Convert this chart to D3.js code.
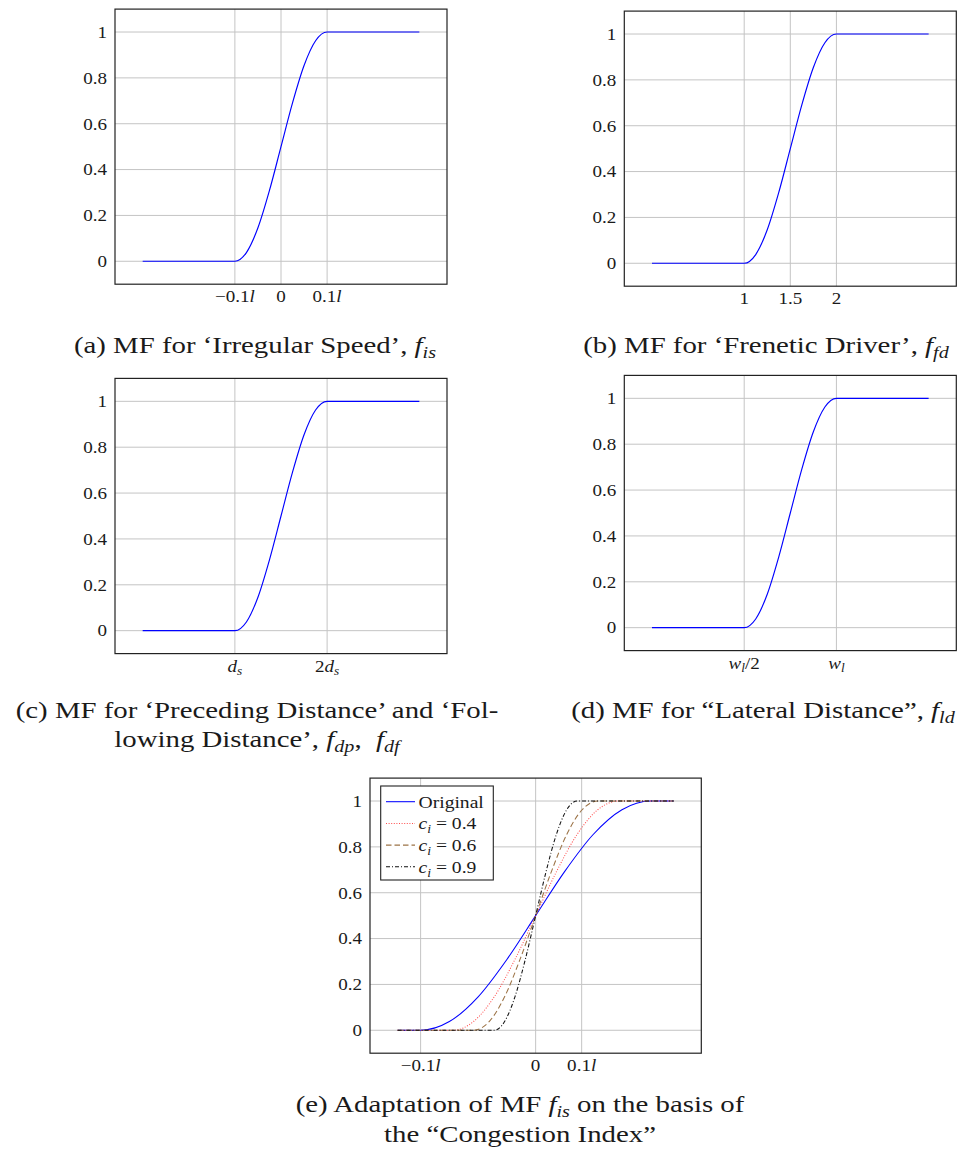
<!DOCTYPE html>
<html>
<head>
<meta charset="utf-8">
<script src="https://cdn.jsdelivr.net/npm/d3@7"></script>
<style>
  body { margin: 0; background: #fff; }
  svg { display: block; }
  text { font-family: "Liberation Serif", "DejaVu Serif", "Times New Roman", serif; fill: #1a1a1a; white-space: pre; }
</style>
</head>
<body>
<svg id="fig" width="970" height="1155"></svg>
<script>
// ---------- shared y axis ----------
const yTickValues = [0, 0.2, 0.4, 0.6, 0.8, 1];
const yTickLabels = ["0", "0.2", "0.4", "0.6", "0.8", "1"];

// ---------- (a) Irregular Speed ----------
const isX = [-0.3, -0.1, -0.075, -0.05, -0.025, 0, 0.025, 0.05, 0.075, 0.1, 0.3];
const isY = [0, 0, 0.038, 0.146, 0.309, 0.5, 0.691, 0.854, 0.962, 1, 1];
const isTicks = [-0.1, 0, 0.1];
const isTickLabels = [[["−0.1", ""], ["l", "i"]], [["0", ""]], [["0.1", ""], ["l", "i"]]];

// ---------- (b) Frenetic Driver ----------
const fdX = [0, 1, 1.125, 1.25, 1.375, 1.5, 1.625, 1.75, 1.875, 2, 3];
const fdY = [0, 0, 0.038, 0.146, 0.309, 0.5, 0.691, 0.854, 0.962, 1, 1];
const fdTicks = [1, 1.5, 2];
const fdTickLabels = [[["1", ""]], [["1.5", ""]], [["2", ""]]];

// ---------- (c) Preceding / Following Distance ----------
const dsX = [0, 1, 1.125, 1.25, 1.375, 1.5, 1.625, 1.75, 1.875, 2, 3];
const dsY = [0, 0, 0.038, 0.146, 0.309, 0.5, 0.691, 0.854, 0.962, 1, 1];
const dsTicks = [1, 2];
const dsTickLabels = [[["d", "i"], ["s", "sub"]], [["2", ""], ["d", "i"], ["s", "sub"]]];

// ---------- (d) Lateral Distance ----------
const ldX = [0, 0.5, 0.5625, 0.625, 0.6875, 0.75, 0.8125, 0.875, 0.9375, 1, 1.5];
const ldY = [0, 0, 0.038, 0.146, 0.309, 0.5, 0.691, 0.854, 0.962, 1, 1];
const ldTicks = [0.5, 1];
const ldTickLabels = [[["w", "i"], ["l", "sub"], ["/2", ""]], [["w", "i"], ["l", "sub"]]];

// ---------- (e) adaptation by Congestion Index ----------
const origX = [-0.3, -0.25, -0.1875, -0.125, -0.0625, 0, 0.0625, 0.125, 0.1875, 0.25, 0.3];
const origY = [0, 0, 0.038, 0.146, 0.309, 0.5, 0.691, 0.854, 0.962, 1, 1];
const c04X = [-0.3, -0.18, -0.135, -0.09, -0.045, 0, 0.045, 0.09, 0.135, 0.18, 0.3];
const c04Y = [0, 0, 0.038, 0.146, 0.309, 0.5, 0.691, 0.854, 0.962, 1, 1];
const c06X = [-0.3, -0.135, -0.101, -0.0675, -0.034, 0, 0.034, 0.0675, 0.101, 0.135, 0.3];
const c06Y = [0, 0, 0.038, 0.146, 0.309, 0.5, 0.691, 0.854, 0.962, 1, 1];
const c09X = [-0.3, -0.09, -0.0675, -0.045, -0.0225, 0, 0.0225, 0.045, 0.0675, 0.09, 0.3];
const c09Y = [0, 0, 0.038, 0.146, 0.309, 0.5, 0.691, 0.854, 0.962, 1, 1];
const adaptTicks = [-0.25, 0, 0.1];
const adaptTickLabels = [[["−0.1", ""], ["l", "i"]], [["0", ""]], [["0.1", ""], ["l", "i"]]];
const legendLabels = [
  [["Original", ""]],
  [["c", "i"], ["i", "sub"], [" = 0.4", ""]],
  [["c", "i"], ["i", "sub"], [" = 0.6", ""]],
  [["c", "i"], ["i", "sub"], [" = 0.9", ""]]
];

// ---------- captions ----------
const captionA = [[["(a) MF for ‘Irregular Speed’, ", ""], ["f", "i"], ["is", "sub"]]];
const captionB = [[["(b) MF for ‘Frenetic Driver’, ", ""], ["f", "i"], ["fd", "sub"]]];
const captionC = [
  [["(c) MF for ‘Preceding Distance’ and ‘Fol-", ""]],
  [["lowing Distance’, ", ""], ["f", "i"], ["dp", "sub"], [",  ", ""], ["f", "i"], ["df", "sub"]]
];
const captionD = [[["(d) MF for “Lateral Distance”, ", ""], ["f", "i"], ["ld", "sub"]]];
const captionE = [
  [["(e) Adaptation of MF ", ""], ["f", "i"], ["is", "sub"], [" on the basis of", ""]],
  [["the “Congestion Index”", ""]]
];

// horizontal widening applied to every label (the typeface is narrower than the original's)
const CAPTION_SIZE = 24;
const CAPTION_STRETCH = 1.2;
const TICK_SIZE = 17;
const TICK_STRETCH = 1.12;

const svg = d3.select("#fig");

// Writes a sequence of [text, style] runs into a <text> element.
function rich(textSel, parts, size, stretch) {
  let inSub = false;
  parts.forEach(([t, s]) => {
    const ts = textSel.append("tspan").text(t);
    if (s === "i") ts.attr("font-style", "italic");
    if (s === "sub") {
      ts.attr("font-style", "italic").attr("font-size", size * 0.7);
      if (!inSub) ts.attr("dy", size * 0.22);
    } else if (inSub) {
      ts.attr("dy", -size * 0.22);
    }
    inSub = s === "sub";
  });
  if (stretch && stretch !== 1) {
    const w = textSel.node().getComputedTextLength();
    textSel.attr("textLength", w * stretch).attr("lengthAdjust", "spacingAndGlyphs");
  }
  return textSel;
}

function zip(xs, ys) { return xs.map((x, i) => [x, ys[i]]); }

// One pgfplots-style axis box with grid, tick labels and curves.
function panel(opt) {
  const g = svg.append("g");
  const x = d3.scaleLinear().domain(opt.xDomain).range([opt.left, opt.right]);
  const y = d3.scaleLinear().domain([-0.1, 1.1]).range([opt.bottom, opt.top]);

  // grid
  g.append("g").selectAll("line").data(opt.xTicks).join("line")
    .attr("x1", d => x(d)).attr("x2", d => x(d))
    .attr("y1", opt.top).attr("y2", opt.bottom)
    .attr("stroke", "#c4c4c4").attr("stroke-width", 1);
  g.append("g").selectAll("line").data(yTickValues).join("line")
    .attr("x1", opt.left).attr("x2", opt.right)
    .attr("y1", d => y(d)).attr("y2", d => y(d))
    .attr("stroke", "#c4c4c4").attr("stroke-width", 1);

  // curves
  const line = d3.line().x(d => x(d[0])).y(d => y(d[1])).curve(d3.curveMonotoneX);
  opt.series.forEach(s => {
    g.append("path").attr("d", line(zip(s.x, s.y)))
      .attr("fill", "none").attr("stroke", s.color)
      .attr("stroke-width", s.width || 1.15)
      .attr("stroke-dasharray", s.dash || null);
  });

  // frame
  g.append("rect").attr("x", opt.left).attr("y", opt.top)
    .attr("width", opt.right - opt.left).attr("height", opt.bottom - opt.top)
    .attr("fill", "none").attr("stroke", "#222").attr("stroke-width", 1.2);

  // y tick labels
  yTickValues.forEach((v, i) => {
    const t = g.append("text").attr("x", opt.left - 8).attr("y", y(v)).attr("dy", "0.34em")
      .attr("text-anchor", "end").attr("font-size", TICK_SIZE);
    rich(t, [[yTickLabels[i], ""]], TICK_SIZE, TICK_STRETCH);
  });

  // x tick labels
  opt.xTicks.forEach((v, i) => {
    const t = g.append("text").attr("x", x(v)).attr("y", opt.bottom + 18)
      .attr("text-anchor", "middle").attr("font-size", TICK_SIZE);
    rich(t, opt.xTickLabels[i], TICK_SIZE, TICK_STRETCH);
  });

  return { g, x, y };
}

function caption(lines, cx, baselines) {
  lines.forEach((parts, i) => {
    const t = svg.append("text").attr("x", cx).attr("y", baselines[i])
      .attr("text-anchor", "middle").attr("font-size", CAPTION_SIZE);
    rich(t, parts, CAPTION_SIZE, CAPTION_STRETCH);
  });
}

const blue = "#0000ff";

panel({ left: 115, right: 447, top: 9.1, bottom: 284.2, xDomain: [-0.36, 0.36],
  xTicks: isTicks, xTickLabels: isTickLabels,
  series: [{ x: isX, y: isY, color: blue }] });

panel({ left: 624.3, right: 956.3, top: 11.1, bottom: 286.2, xDomain: [-0.3, 3.3],
  xTicks: fdTicks, xTickLabels: fdTickLabels,
  series: [{ x: fdX, y: fdY, color: blue }] });

panel({ left: 115, right: 447, top: 378.4, bottom: 653.6, xDomain: [-0.3, 3.3],
  xTicks: dsTicks, xTickLabels: dsTickLabels,
  series: [{ x: dsX, y: dsY, color: blue }] });

panel({ left: 624.3, right: 956.3, top: 375.4, bottom: 650.6, xDomain: [-0.15, 1.65],
  xTicks: ldTicks, xTickLabels: ldTickLabels,
  series: [{ x: ldX, y: ldY, color: blue }] });

const adaptStyles = [
  { color: blue, dash: null },
  { color: "#ff4d4d", dash: "1 1.6" },
  { color: "#9c7346", dash: "5.5 3" },
  { color: "#111", dash: "4 2 1 2" }
];
const adaptSeries = [[origX, origY], [c04X, c04Y], [c06X, c06Y], [c09X, c09Y]]
  .map(([xs, ys], i) => ({ x: xs, y: ys, color: adaptStyles[i].color, dash: adaptStyles[i].dash, width: 1.05 }));

const pe = panel({ left: 370, right: 701.3, top: 778.1, bottom: 1053.2, xDomain: [-0.36, 0.36],
  xTicks: adaptTicks, xTickLabels: adaptTickLabels, series: adaptSeries });

// legend
const lg = pe.g.append("g");
lg.append("rect").attr("x", 380.7).attr("y", 786).attr("width", 112.6).attr("height", 94)
  .attr("fill", "#fff").attr("stroke", "#222").attr("stroke-width", 1.1);
legendLabels.forEach((parts, i) => {
  const cy = 801.7 + i * 21.7;
  lg.append("line").attr("x1", 386).attr("x2", 415).attr("y1", cy).attr("y2", cy)
    .attr("stroke", adaptStyles[i].color).attr("stroke-width", 1.05)
    .attr("stroke-dasharray", adaptStyles[i].dash);
  const t = lg.append("text").attr("x", 418.5).attr("y", cy).attr("dy", "0.34em").attr("font-size", 17.5);
  rich(t, parts, 17.5, 1.12);
});

caption(captionA, 255, [353]);
caption(captionB, 766, [353]);
caption(captionC, 257, [718, 747]);
caption(captionD, 763, [718]);
caption(captionE, 520, [1112, 1142]);
</script>
</body>
</html>
